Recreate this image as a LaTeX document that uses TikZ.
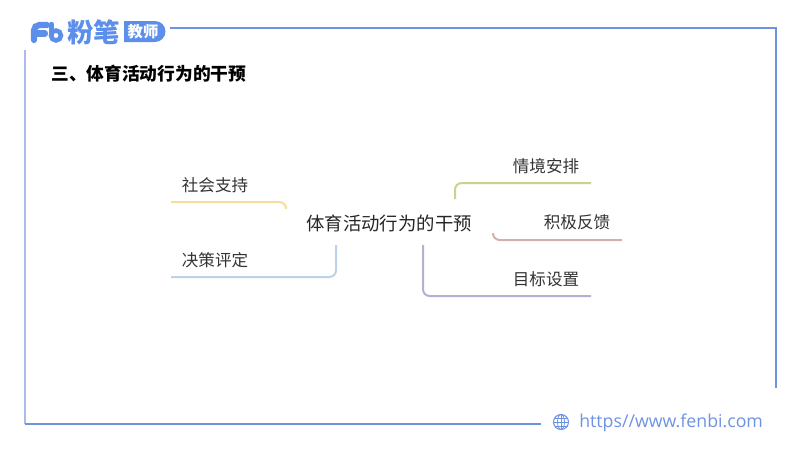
\documentclass[tikz,border=0pt]{standalone}
\usepackage{fontspec}
\setmainfont{Noto Sans CJK SC}
\newfontfamily\urlfont{Open Sans}
\usetikzlibrary{positioning}
\definecolor{framecol}{HTML}{6F93E3}
\definecolor{sidecol}{HTML}{A9BCEB}
\definecolor{logocol}{HTML}{5B8FEA}
\definecolor{yellowcol}{HTML}{F7DC9A}
\definecolor{bluecol}{HTML}{BDD2E8}
\definecolor{greencol}{HTML}{C4D68E}
\definecolor{redcol}{HTML}{D3B0AC}
\definecolor{purplecol}{HTML}{B3B0D4}
\tikzset{
  leaf/.style={text=black!80,font=\fontsize{12.4}{14}\selectfont,inner sep=0pt},
  branch/.style={line width=1.5pt,rounded corners=5pt},
}
\begin{document}
\begin{tikzpicture}[x=0.75pt,y=-0.75pt]
  \useasboundingbox[fill=white] (0,0) rectangle (800,450);
  % frame
  \coordinate (frametop) at (170,28);
  \coordinate (framecorner) at (776,28);
  \coordinate (frameend) at (776,388);
  \coordinate (sidetop) at (25,50);
  \coordinate (sidecorner) at (25,424);
  \coordinate (sideend) at (541,424);
  \draw[framecol,line width=1.2pt] (frametop)--(framecorner)--(frameend);
  \draw[sidecol,line width=1.2pt] (sidetop)--(sidecorner);
  \draw[framecol,line width=1.2pt] (sidecorner)--(sideend);
  % logo
  \draw[logocol,line width=4.6pt,line cap=round,rounded corners=4pt] (34,40)--(34,25)--(47,25);
  \draw[logocol,line width=4.6pt,line cap=round] (34,33.5)--(45,33.5);
  \draw[logocol,line width=3.2pt,line cap=round] (51.5,24)--(51.5,35);
  \draw[logocol,line width=3.4pt] (56,35.5) circle (5);
  \node[text=logocol,font=\fontsize{19.8}{22}\bfseries\selectfont,inner sep=0pt](brand) at (93.5,32) {粉笔};
  \fill[logocol] (124,21) -- (155,21) arc[start angle=-90,end angle=90,radius=10.5] -- (124,42) -- cycle;
  \node[text=white,font=\fontsize{11.5}{13}\bfseries\selectfont,inner sep=0pt](badge) at (143,32) {教师};
  % title
  \node[anchor=west,text=black,font=\fontsize{13.3}{15}\bfseries\selectfont,inner sep=0pt](title) at (51,74) {三、体育活动行为的干预};
  % mind map
  \node[text=black!85,font=\fontsize{13.8}{16}\selectfont,inner sep=0pt](root) at (389,223) {体育活动行为的干预};
  \node[leaf](social) at (215,185) {社会支持};
  \node[leaf](decision) at (215,260) {决策评定};
  \node[leaf](situation) at (546,166) {情境安排};
  \node[leaf](feedback) at (577,222) {积极反馈};
  \node[leaf](goal) at (546,279) {目标设置};
  \coordinate (socialstart) at (286,206);
  \coordinate (socialend) at (171,202);
  \coordinate (decisionstart) at (336,245);
  \coordinate (decisionend) at (171,277);
  \coordinate (situationstart) at (455,199);
  \coordinate (situationend) at (591,183);
  \coordinate (feedbackstart) at (493,235);
  \coordinate (feedbackend) at (622,240);
  \coordinate (goalstart) at (423,245);
  \coordinate (goalend) at (591,296);
  \draw[branch,yellowcol] (socialstart)--(socialstart|-socialend)--(socialend);
  \draw[branch,bluecol] (decisionstart)--(decisionstart|-decisionend)--(decisionend);
  \draw[branch,greencol] (situationstart)--(situationstart|-situationend)--(situationend);
  \draw[branch,redcol] (feedbackstart)--(feedbackstart|-feedbackend)--(feedbackend);
  \draw[branch,purplecol] (goalstart)--(goalstart|-goalend)--(goalend);
  % footer
  \draw[framecol,line width=0.8pt] (561,422) circle (7.5);
  \draw[framecol,line width=0.6pt] (561,422) ellipse (3.5 and 7.5);
  \draw[framecol,line width=0.6pt] (553.5,422)--(568.5,422);
  \draw[framecol,line width=0.6pt] (554.5,418)--(567.5,418);
  \draw[framecol,line width=0.6pt] (554.5,426)--(567.5,426);
  \draw[framecol,line width=0.6pt] (561,414.5)--(561,429.5);
  \node[anchor=west,text=framecol,font=\urlfont\fontsize{13.3}{15}\selectfont,inner sep=0pt](url) at (579,423) {https//www.fenbi.com};
\end{tikzpicture}
\end{document}
